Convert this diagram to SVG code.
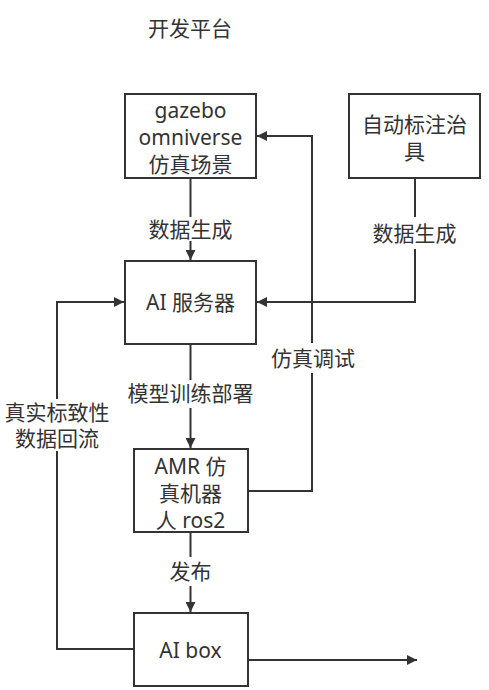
<svg xmlns="http://www.w3.org/2000/svg" width="489" height="690" viewBox="0 0 489 690">
<defs>
<marker id="ah" viewBox="0 0 10 10" refX="10" refY="5" markerWidth="10" markerHeight="10" markerUnits="userSpaceOnUse" orient="auto">
<path d="M0,0 L10,5 L0,10 z" fill="#333"/>
</marker>
<style>
text{font-family:"Noto Sans","Noto Sans CJK SC",sans-serif;font-size:21px;fill:#333;text-anchor:middle;dominant-baseline:central}
.box{fill:#fff;stroke:#333;stroke-width:2}
.ln{fill:none;stroke:#333;stroke-width:2}
.lbl{fill:#fff;stroke:none}
</style>
</defs>
<rect width="489" height="690" fill="#fff"/>
<text x="190" y="28">开发平台</text>
<g id="connectors">
<path class="ln" d="M190.5,178 V217"/>
<path class="ln" d="M190.5,241 V260" marker-end="url(#ah)"/>
<path class="ln" d="M415,178 V217"/>
<path class="ln" d="M415,249 V302 H257" marker-end="url(#ah)"/>
<path class="ln" d="M248,491 H312 V373"/>
<path class="ln" d="M312,343 V136 H257" marker-end="url(#ah)"/>
<path class="ln" d="M190.5,344 V380"/>
<path class="ln" d="M190.5,408 V448" marker-end="url(#ah)"/>
<path class="ln" d="M190.5,532 V557"/>
<path class="ln" d="M190.5,586 V612" marker-end="url(#ah)"/>
<path class="ln" d="M134,649 H57 V451"/>
<path class="ln" d="M57,399 V302 H124" marker-end="url(#ah)"/>
<path class="ln" d="M248,660 H417" marker-end="url(#ah)"/>
<text x="190.5" y="229">数据生成</text>
<text x="414.5" y="233">数据生成</text>
<text x="313" y="358">仿真调试</text>
<text x="190.5" y="393">模型训练部署</text>
<text x="190.5" y="571">发布</text>
<text x="57" y="412">真实标致性</text>
<text x="57" y="438">数据回流</text>
</g>
<g id="gazebo">
<rect class="box" x="125" y="94" width="131" height="84"/>
<text x="190.5" y="110">gazebo</text>
<text x="190.5" y="137">omniverse</text>
<text x="190.5" y="164">仿真场景</text>
</g>
<g id="annotate">
<rect class="box" x="349" y="94" width="131" height="84"/>
<text x="414.5" y="124">自动标注治</text>
<text x="414.5" y="151">具</text>
</g>
<g id="ai-server">
<rect class="box" x="125" y="261" width="131" height="83"/>
<text x="190.5" y="302">AI 服务器</text>
</g>
<g id="amr">
<rect class="box" x="134" y="449" width="114" height="83"/>
<text x="190.5" y="466">AMR 仿</text>
<text x="190.5" y="493">真机器</text>
<text x="190.5" y="520">人 ros2</text>
</g>
<g id="ai-box">
<rect class="box" x="134" y="613" width="114" height="73"/>
<text x="190.5" y="650">AI box</text>
</g>
</svg>
